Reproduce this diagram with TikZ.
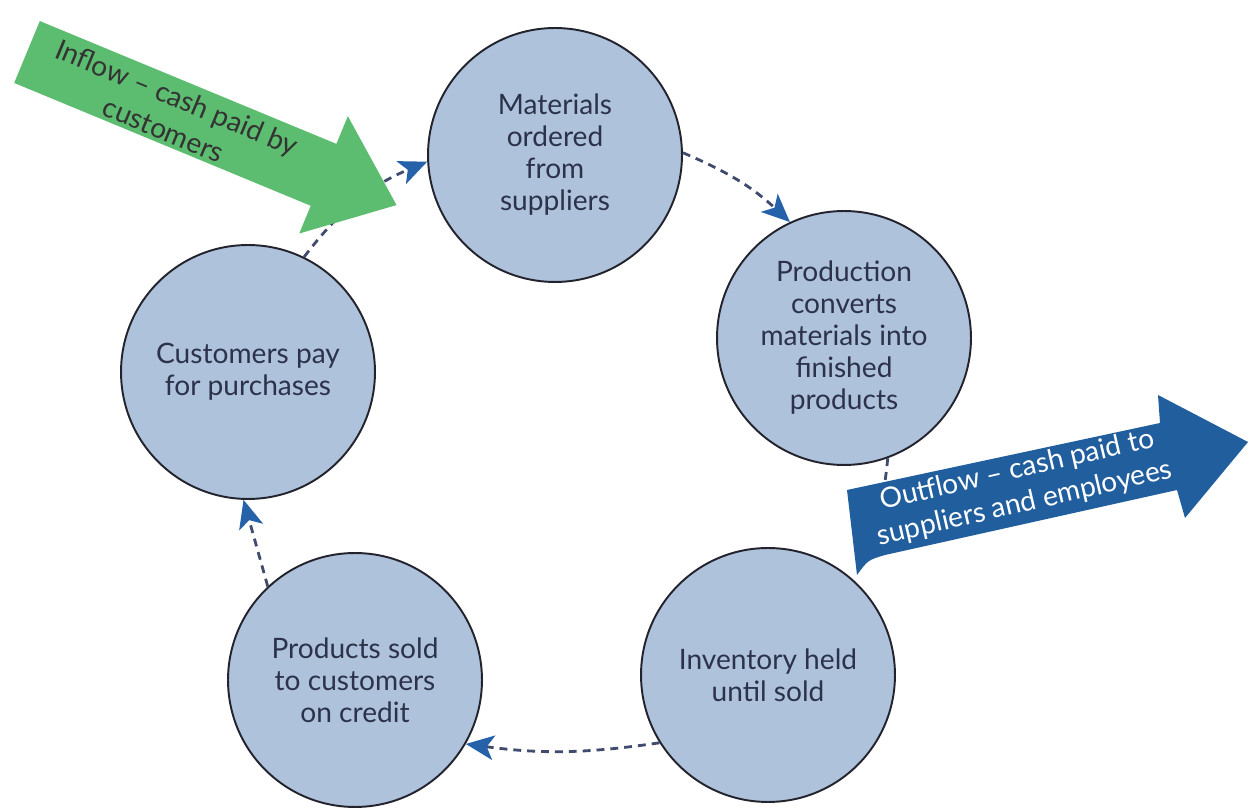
\documentclass[tikz,border=0pt]{standalone}
\usepackage{fontspec}
\setmainfont{Lato}
\usetikzlibrary{arrows.meta,calc}
\definecolor{stagefill}{RGB}{174,194,219}
\definecolor{stageline}{RGB}{35,35,45}
\definecolor{stagetext}{RGB}{45,50,75}
\definecolor{flowdash}{RGB}{65,75,110}
\definecolor{flowtip}{RGB}{38,98,170}
\definecolor{inflowgreen}{RGB}{92,189,112}
\definecolor{outflowblue}{RGB}{33,94,158}

\begin{document}
\begin{tikzpicture}[x=0.02cm, y=-0.02cm,
  stage/.style={circle, draw=stageline, line width=1.1pt, fill=stagefill,
                minimum size=5.08cm, inner sep=0pt, align=center,
                text=stagetext, font=\fontsize{16}{18.2}\selectfont},
  flow/.style={draw=flowdash, line width=1.6pt, dash pattern=on 4.5pt off 3.4pt,
               -{Stealth[length=16pt,width=14pt,inset=4pt,color=flowtip]}},
  bigtext/.style={align=center, inner sep=0pt, font=\fontsize{16}{20}\selectfont}
]
  \useasboundingbox (0,0) rectangle (1252,810);
  \fill[white] (0,0) rectangle (1252,810);

  % stages of the cycle
  \node[stage] (mat) at (555,155) {Materials\\ordered\\from\\suppliers};
  \node[stage] (prod) at (844,338) {Production\\converts\\materials into\\finished\\products};
  \node[stage] (inv) at (768,675) {Inventory held\\until sold};
  \node[stage] (sold) at (355,680) {Products sold\\to customers\\on credit};
  \node[stage] (cust) at (248,372) {Customers pay\\for purchases};

  % dashed links
  \draw[flow] (mat.1) to[bend left=10] (prod.115);
  \draw[flow, -, shorten >=0.6cm] (prod.-70) to[bend left=12] (inv.50);
  \draw[flow] (inv.212) to[bend left=8] (sold.-30);
  \draw[flow] (sold.133) to (cust.-92);
  \draw[flow] (cust.64) to[bend left=15] (mat.183);

  % inflow arrow
  \begin{scope}[shift={(27,52)}, rotate=-22.5]
    \fill[inflowgreen] (0,-33.5) -- (321,-33.5) -- (321,-63.5) -- (400,0)
      -- (321,63.5) -- (321,33.5) -- (0,33.5) -- cycle;
    \node[bigtext, rotate=-22.5, text=black!80] (intext) at (156,2)
      {Inflow -- cash paid by\\customers};
  \end{scope}

  % outflow arrow
  \fill[outflowblue] (847,490) -- (1160,423) -- (1158,395) -- (1248,442)
    -- (1185,518) -- (1177,490) -- (885,555) .. controls (868,560) .. (857,575) -- cycle;
  \node[bigtext, rotate=13, text=white, font=\fontsize{16}{19.5}\selectfont] (outtext)
    at (1021,487) {Outflow -- cash paid to\\suppliers and employees};
\end{tikzpicture}
\end{document}
